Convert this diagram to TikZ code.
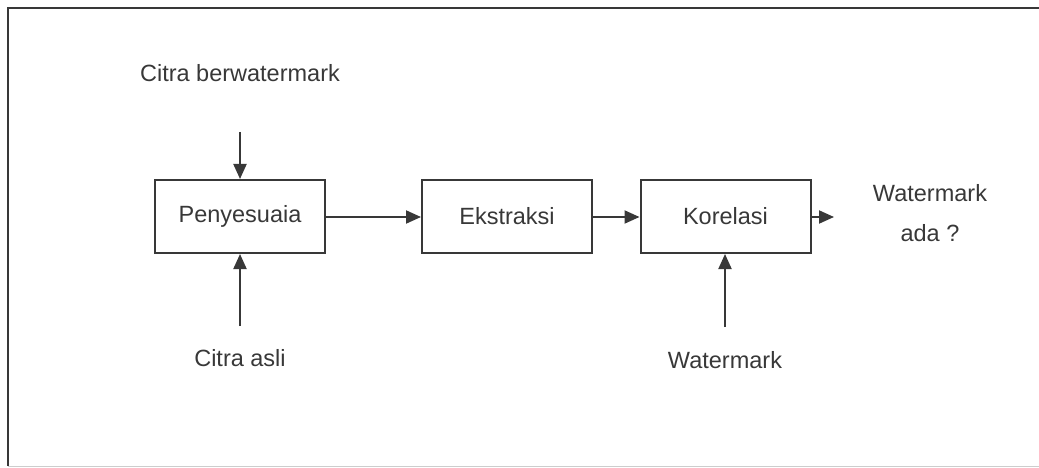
\documentclass[tikz,border=0pt]{standalone}
\usepackage{fontspec}
\setmainfont{Liberation Sans}
\usetikzlibrary{arrows.meta}
\definecolor{ink}{HTML}{383838}
\begin{document}
\begin{tikzpicture}[x=1pt,y=-1pt,
  blockbox/.style={draw=ink,line width=2pt,minimum width=170pt,minimum height=73pt,inner sep=0pt,font=\fontsize{23.5}{28}\selectfont,text=ink},
  lbl/.style={font=\fontsize{23.5}{28}\selectfont,text=ink,inner sep=0pt},
  flow/.style={draw=ink,line width=2pt,-{Triangle[length=15pt,width=13pt]}}]
  \useasboundingbox (0,0) rectangle (1039,468);
  % outer frame
  \draw[ink,line width=2pt] (8,466) -- (8,8) -- (1045,8);
  \draw[ink!25,line width=1pt] (8,466) -- (1045,466);
  % processing blocks
  \node[blockbox] (adj) at (240,216.5) {Penyesuaia};
  \node[blockbox] (ext) at (507,216.5) {Ekstraksi};
  \node[blockbox] (cor) at (725.5,216.5) {Korelasi};
  % labels
  \node[lbl] (inwm) at (240,73) {Citra berwatermark};
  \node[lbl] (inor) at (240,358) {Citra asli};
  \node[lbl] (inkey) at (725,360) {Watermark};
  \node[lbl,align=center] (out) at (930,213) {Watermark\\[12pt]ada ?};
  % helper points for arrow tails and the output tip
  \coordinate (wmtail) at (240,132);
  \coordinate (ortail) at (240,326);
  \coordinate (keytail) at (725,327);
  \coordinate (outtip) at (834,217);
  % connectors
  \draw[flow] (wmtail) -- (adj.north);
  \draw[flow] (ortail) -- (adj.south);
  \draw[flow] (adj.east |- 0,217) -- (ext.west |- 0,217);
  \draw[flow] (ext.east |- 0,217) -- (cor.west |- 0,217);
  \draw[flow] (keytail) -- (cor.south -| keytail);
  \draw[flow] (cor.east |- outtip) -- (outtip);
\end{tikzpicture}
\end{document}
